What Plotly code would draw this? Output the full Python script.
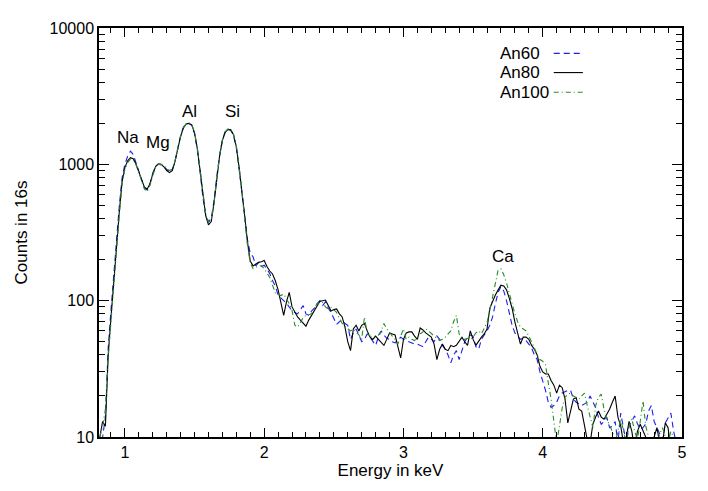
import math
import plotly.graph_objects as go

# Energy channels (keV)
energy = [
    0.82, 0.84, 0.86, 0.88, 0.90, 0.92, 0.94, 0.96, 0.98, 1.00,
    1.02, 1.04, 1.06, 1.08, 1.10, 1.12, 1.14, 1.16, 1.18, 1.20,
    1.22, 1.24, 1.26, 1.28, 1.30, 1.32, 1.34, 1.36, 1.38, 1.40,
    1.42, 1.44, 1.46, 1.48, 1.50, 1.52, 1.54, 1.56, 1.58, 1.60,
    1.62, 1.64, 1.66, 1.68, 1.70, 1.72, 1.74, 1.76, 1.78, 1.80,
    1.82, 1.84, 1.86, 1.88, 1.90, 1.92, 1.94, 1.96, 1.98, 2.00,
    2.02, 2.04, 2.06, 2.08, 2.10, 2.12, 2.14, 2.16, 2.18, 2.20,
    2.22, 2.24, 2.26, 2.28, 2.30, 2.32, 2.34, 2.36, 2.38, 2.40,
    2.42, 2.44, 2.46, 2.48, 2.50, 2.52, 2.54, 2.56, 2.58, 2.60,
    2.62, 2.64, 2.66, 2.68, 2.70, 2.72, 2.74, 2.76, 2.78, 2.80,
    2.82, 2.84, 2.86, 2.88, 2.90, 2.92, 2.94, 2.96, 2.98, 3.00,
    3.02, 3.04, 3.06, 3.08, 3.10, 3.12, 3.14, 3.16, 3.18, 3.20,
    3.22, 3.24, 3.26, 3.28, 3.30, 3.32, 3.34, 3.36, 3.38, 3.40,
    3.42, 3.44, 3.46, 3.48, 3.50, 3.52, 3.54, 3.56, 3.58, 3.60,
    3.62, 3.64, 3.66, 3.68, 3.70, 3.72, 3.74, 3.76, 3.78, 3.80,
    3.82, 3.84, 3.86, 3.88, 3.90, 3.92, 3.94, 3.96, 3.98, 4.00,
    4.02, 4.04, 4.06, 4.08, 4.10, 4.12, 4.14, 4.16, 4.18, 4.20,
    4.22, 4.24, 4.26, 4.28, 4.30, 4.32, 4.34, 4.36, 4.38, 4.40,
    4.42, 4.44, 4.46, 4.48, 4.50, 4.52, 4.54, 4.56, 4.58, 4.60,
    4.62, 4.64, 4.66, 4.68, 4.70, 4.72, 4.74, 4.76, 4.78, 4.80,
    4.82, 4.84, 4.86, 4.88, 4.90, 4.92, 4.94, 4.96,
]

an60 = [
    8, 10, 14, 45, 85, 160, 290, 500, 800, 1000,
    1150, 1250, 1180, 1030, 880, 760, 670, 650, 720, 860,
    970, 1000, 990, 960, 920, 880, 910, 1060, 1320, 1620,
    1870, 1990, 1990, 1930, 1680, 1280, 880, 570, 430, 380,
    400, 540, 820, 1170, 1510, 1730, 1810, 1780, 1630, 1320,
    920, 600, 400, 280, 222, 210, 180, 190, 178, 182,
    170, 158, 140, 128, 110, 104, 100, 96, 90, 84,
    82, 80, 86, 92, 80, 78, 84, 88, 95, 100,
    92, 98, 88, 82, 74, 67, 70, 72, 68, 66,
    52, 58, 62, 55, 50, 52, 57, 54, 50, 47,
    54, 60, 56, 53, 52, 50, 49, 52, 54, 52,
    51, 50, 49, 48, 48, 47, 46, 50, 54, 52,
    50, 55, 52, 47, 44, 40, 35, 40, 43, 37,
    44, 50, 54, 56, 55, 46, 44, 52, 56, 60,
    66, 76, 95, 115, 127, 118, 100, 80, 66, 58,
    55, 52, 53, 51, 48, 45, 40, 37, 30, 26,
    22, 18, 16.5, 17, 18, 20, 21, 21.5, 22, 22,
    19, 18, 17.5, 17, 17.5, 18, 20, 18, 16.4, 14,
    12.4, 13, 14, 11.7, 12, 13, 9, 15, 12, 9,
    12, 13, 14.3, 12.5, 11.4, 11.7, 12.5, 15.5, 17, 13,
    11.7, 10.5, 9.5, 12.7, 14, 15, 11, 9,
]

an80 = [
    10, 13, 12, 40, 75, 140, 260, 450, 750, 950,
    1060, 1120, 1100, 1000, 880, 760, 680, 660, 720, 850,
    960, 1010, 1000, 960, 900, 870, 900, 1050, 1300, 1600,
    1850, 1980, 2000, 1950, 1700, 1300, 900, 580, 420, 360,
    380, 520, 800, 1150, 1500, 1720, 1800, 1790, 1650, 1350,
    950, 650, 420, 270, 195, 180, 186, 191, 193, 197,
    178, 165, 157, 140, 120, 95, 78, 98, 115, 90,
    82, 76, 72, 68, 65, 72, 78, 84, 92, 99,
    100, 101, 92, 84, 86, 87, 80, 76, 64, 50,
    43, 62, 66, 60, 66, 68, 60, 54, 52, 55,
    52, 49, 47, 52, 58, 57, 56, 46, 38, 52,
    58, 59, 59, 55, 52, 63, 61, 58, 56, 54,
    48, 37, 44, 48, 44, 43, 47, 46, 47, 50,
    54, 50, 47, 60, 52, 47, 51, 54, 57, 62,
    88, 100, 110, 120, 130, 128, 120, 104, 88, 70,
    58, 48, 54, 54, 52, 47, 44, 40, 33, 30,
    29, 29, 26, 24, 21, 24, 23, 19, 12.7, 16,
    19, 19.5, 16, 15.5, 12, 9.5, 9, 12.4, 14, 15.5,
    14, 13.5, 14.7, 16, 18, 20, 14, 12, 9, 10,
    13, 11, 8, 11, 12.4, 11, 10, 9, 8, 10,
    11.7, 9, 9, 12.7, 11.7, 8, 7, 7,
]

an100 = [
    10, 12, 16, 38, 70, 135, 250, 430, 720, 920,
    1030, 1090, 1080, 990, 870, 750, 660, 630, 700, 830,
    950, 1000, 1000, 980, 930, 900, 920, 1060, 1310, 1610,
    1860, 1990, 2010, 1960, 1720, 1320, 920, 600, 430, 375,
    390, 530, 810, 1160, 1510, 1740, 1820, 1800, 1660, 1370,
    970, 620, 390, 255, 190, 172, 176, 178, 181, 172,
    160, 148, 130, 114, 111, 109, 112, 103, 95, 85,
    66, 64, 70, 75, 78, 79, 80, 88, 95, 97,
    97, 90, 87, 89, 86, 82, 74, 68, 65, 62,
    60, 62, 59, 56, 52, 76, 57, 55, 54, 55,
    56, 60, 68, 62, 58, 55, 52, 48, 55, 62,
    52, 54, 52, 51, 54, 57, 59, 62, 60, 57,
    55, 53, 51, 52, 54, 57, 60, 70, 78, 57,
    52, 52, 53, 52, 54, 58, 60, 57, 62, 69,
    85, 106, 140, 168, 171, 155, 135, 112, 95, 80,
    70, 64, 62, 60, 55, 50, 45, 40, 37, 36,
    34, 25, 19, 13, 9, 12, 16.4, 19.5, 20.6, 21,
    20, 19.5, 19, 20, 21, 17, 14, 11.7, 17, 19.5,
    20.6, 16, 13.5, 12, 11, 9, 11, 13.6, 11, 9,
    12, 13.6, 11, 9.5, 13, 18.4, 12, 10, 9, 10,
    9, 10.5, 11.7, 10, 9, 11, 10, 9,
]

# Peak labels
peak_names = ['Na', 'Mg', 'Al', 'Si', 'Ca']
peak_energy = [1.02, 1.236, 1.464, 1.771, 3.714]
peak_counts = [1580, 1450, 2450, 2450, 211]

y_tickvals = [10, 100, 1000, 10000]
y_ticktext = ['10', '100', '1000', '10000']

FONT = 'Liberation Sans, Arial, Helvetica, sans-serif'

series = [
    ('An60', an60, 'rgb(30,30,240)', '6px,4px'),
    ('An80', an80, 'black', 'solid'),
    ('An100', an100, 'rgb(40,140,40)', '5px,3px,1px,3px'),
]

fig = go.Figure()
for name, vals, color, dash in series:
    fig.add_trace(go.Scatter(x=energy, y=vals, mode='lines', name=name,
                             line=dict(color=color, width=1.1, dash=dash)))

axis_common = dict(
    showline=True, linecolor='black', linewidth=1.5, mirror='ticks',
    ticks='inside', tickcolor='black', tickwidth=1.2,
    showgrid=False, zeroline=False,
    tickfont=dict(family=FONT, size=16, color='black'),
)

fig.update_xaxes(range=[0.814, 5.0], dtick=1, tick0=0, ticklen=9,
                 minor=dict(ticks='inside', dtick=0.1, ticklen=5,
                            tickcolor='black', tickwidth=1),
                 title=dict(text='Energy in keV', standoff=2,
                            font=dict(family=FONT, size=17, color='black')),
                 **axis_common)
fig.update_yaxes(type='log', range=[1, 4], tickvals=y_tickvals,
                 ticktext=y_ticktext, ticklen=10,
                 minor=dict(ticks='inside', dtick='D1', ticklen=6,
                            tickcolor='black', tickwidth=1),
                 title=dict(text='Counts in 16s', standoff=18,
                            font=dict(family=FONT, size=17, color='black')),
                 **axis_common)

for n, e, c in zip(peak_names, peak_energy, peak_counts):
    fig.add_annotation(x=e, y=math.log10(c), text=n, showarrow=False,
                       font=dict(family=FONT, size=17, color='black'))

# Legend drawn IDL style: label left, line sample right
legend_y = [0.938, 0.891, 0.843]
for (name, vals, color, dash), ly in zip(series, legend_y):
    fig.add_annotation(xref='paper', yref='paper', x=0.685, y=ly,
                       xanchor='left', yanchor='middle', text=name,
                       showarrow=False,
                       font=dict(family=FONT, size=17, color='black'))
    fig.add_shape(type='line', xref='paper', yref='paper',
                  x0=0.780, x1=0.830, y0=ly, y1=ly,
                  line=dict(color=color, width=1.1, dash=dash))

# page body adds an 8px offset, so the figure is slightly smaller than the window
fig.update_layout(
    width=700, height=483,
    margin=dict(l=87, r=26, t=20, b=54),
    paper_bgcolor='white', plot_bgcolor='white',
    showlegend=False,
    font=dict(family=FONT, size=16, color='black'),
)

fig.write_html("out.html")
